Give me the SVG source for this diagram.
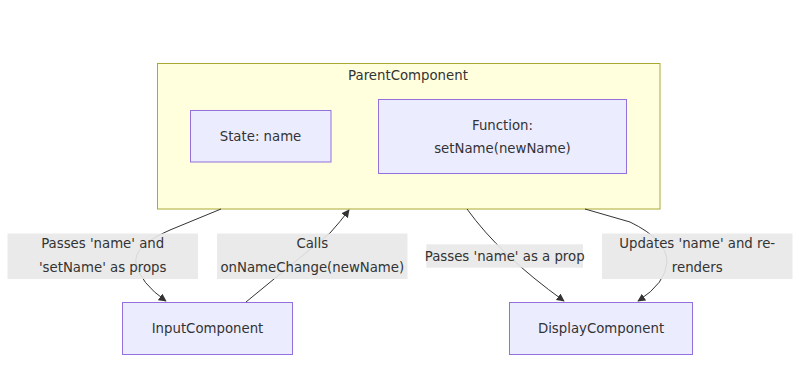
<svg xmlns="http://www.w3.org/2000/svg" width="798" height="380" viewBox="0 0 798 380">
<defs>
<style>
.node rect{fill:#ECECFF;stroke:#9370DB;stroke-width:1}
.cluster rect{fill:#ffffde;stroke:#aaaa33;stroke-width:1}
text{font-family:"DejaVu Sans",Verdana,sans-serif;font-size:13.3px;fill:#333333;text-anchor:middle;dominant-baseline:central}
.edge{fill:none;stroke:#333333;stroke-width:1}
.lbl{fill:#e8e8e8;opacity:0.9}
</style>
<marker id="arrow" viewBox="0 0 10 10" refX="9" refY="5" markerUnits="userSpaceOnUse" markerWidth="8" markerHeight="8" orient="auto">
<path d="M0,0 L10,5 L0,10 z" fill="#333333"/>
</marker>
</defs>
<rect width="798" height="380" fill="#ffffff"/>
<g id="ParentComponent" class="cluster">
<rect x="157.5" y="63.5" width="502.5" height="145.5"/>
<text x="408" y="75">ParentComponent</text>
</g>
<g id="State" class="node">
<rect x="190.5" y="110.5" width="140.5" height="51.5"/>
<text x="260.5" y="136">State: name</text>
</g>
<g id="Function" class="node">
<rect x="378.5" y="99.5" width="248" height="74"/>
<text x="502.5" y="125">Function:</text>
<text x="502.5" y="148.3">setName(newName)</text>
</g>
<g id="InputComponent" class="node">
<rect x="122.5" y="302.5" width="170" height="52"/>
<text x="207.5" y="328">InputComponent</text>
</g>
<g id="DisplayComponent" class="node">
<rect x="509.5" y="302.5" width="183" height="52"/>
<text x="601" y="328">DisplayComponent</text>
</g>
<g id="connectors">
<path class="edge" d="M221,209 L170,230 Q133,246 136,263 Q140,283 166,301" marker-end="url(#arrow)"/>
<path class="edge" d="M246,302 L330,233 Q340,222 349,210" marker-end="url(#arrow)"/>
<path class="edge" d="M467,209 Q500,255 564,301" marker-end="url(#arrow)"/>
<path class="edge" d="M585,209 L630,222 Q667,240 667,262 Q666,283 638,301" marker-end="url(#arrow)"/>
</g>
<g id="edge-labels">
<rect class="lbl" x="7.5" y="233.5" width="190.5" height="45.5"/>
<text x="102.7" y="243.5">Passes 'name' and</text>
<text x="102.7" y="267">'setName' as props</text>
<rect class="lbl" x="217" y="233.5" width="190.5" height="45.5"/>
<text x="312.3" y="243.5">Calls</text>
<text x="312.3" y="267">onNameChange(newName)</text>
<rect class="lbl" x="426.3" y="244.3" width="156.7" height="23.4"/>
<text x="504.7" y="256">Passes 'name' as a prop</text>
<rect class="lbl" x="602" y="233.5" width="190.5" height="45.5"/>
<text x="697.2" y="243.5">Updates 'name' and re-</text>
<text x="697.2" y="267">renders</text>
</g>
</svg>
